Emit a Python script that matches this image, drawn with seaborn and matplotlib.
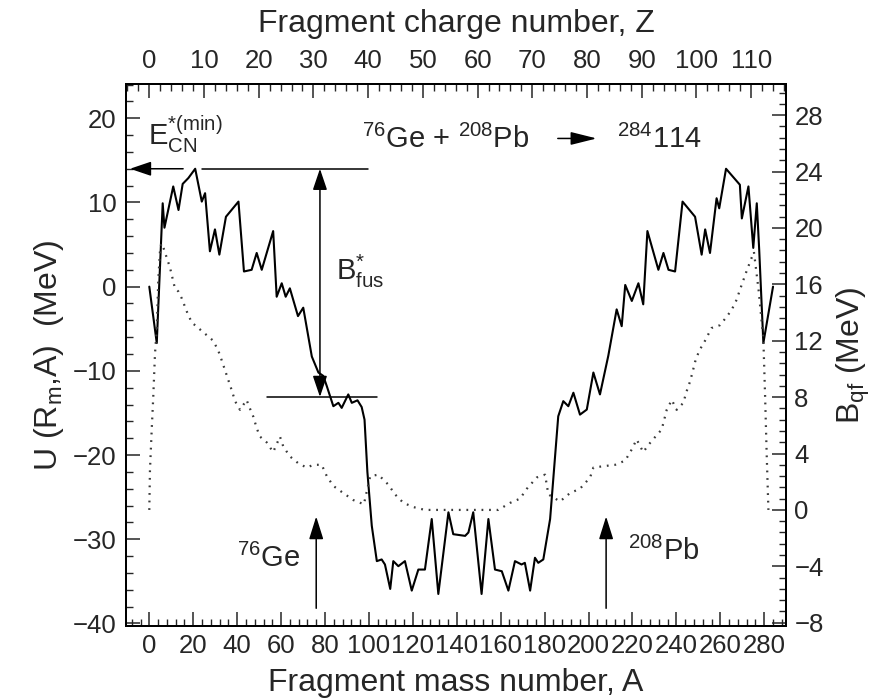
import matplotlib
matplotlib.use("Agg")
import matplotlib.pyplot as plt
from matplotlib import font_manager
from matplotlib.ticker import MultipleLocator, FixedLocator
import pandas as pd
import seaborn as sns

# Driving potential U(R_m, A) for the 76Ge + 208Pb -> 284114 system (MeV)
mass_U = [0, 3.4, 6.1, 6.9, 10.9, 13.3, 15.2, 17.8, 20.9, 23.9, 25.4, 27.6, 29.9, 31.9,
          34.9, 40.6, 43.1, 46.6, 48.9, 51.2, 56.4, 58.0, 60.3, 62.1, 64.0, 67.7, 70.1,
          74.0, 77.0, 79.2, 80.8, 83.8, 86.1, 87.6, 90.6, 92.2, 94.8, 96.7, 98.0, 99.3,
          101.3, 103.6, 105.8, 107.3, 109.7, 111.1, 113.4, 116.4, 119.5, 122.5, 125.5,
          128.6, 131.6, 136.2, 138.4, 143.8, 145.3, 147.5, 151.3, 154.4, 157.4, 160.5,
          163.5, 166.5, 169.5, 171.0, 173.4, 175.6, 177.1, 179.4, 182.5, 186.2, 188.5,
          190.8, 193.1, 196.1, 199.2, 202.2, 205.2, 209.0, 212.8, 215.1, 216.7, 219.7,
          222.7, 224.9, 226.8, 231.8, 234.1, 236.4, 239.4, 242.8, 248.5, 251.5, 253.1,
          255.3, 258.3, 259.5, 262.6, 268.9, 269.8, 272.8, 275.0, 276.6, 277.7, 279.6,
          284.0]
pot_U = [0.0, -6.7, 9.9, 7.0, 11.9, 9.1, 12.2, 12.9, 14.0, 10.1, 11.1, 4.2, 6.8, 3.8,
         8.3, 10.1, 1.8, 2.0, 4.0, 2.0, 6.6, -1.2, 0.4, -1.2, -0.2, -3.5, -2.5,
         -8.3, -10.2, -10.6, -11.8, -14.2, -13.8, -14.4, -12.8, -13.8, -13.5, -14.3, -15.8, -22.0,
         -28.4, -32.6, -32.4, -33.0, -35.9, -32.6, -33.2, -32.6, -36.1, -33.6, -33.6,
         -27.6, -36.5, -26.8, -29.4, -29.6, -29.2, -26.8, -36.5, -27.6, -33.6, -33.8,
         -36.1, -32.6, -33.0, -32.8, -36.1, -32.2, -32.8, -32.4, -27.6, -15.4, -13.6,
         -14.2, -12.6, -15.2, -14.6, -10.2, -12.8, -8.2, -2.7, -4.7, 0.2, -1.7,
         0.4, -2.1, 6.6, 2.0, 4.0, 2.0, 1.8, 10.1, 8.3, 3.8, 6.8,
         4.0, 10.5, 9.3, 14.0, 12.1, 8.1, 11.9, 4.6, 9.9, 4.4, -6.7,
         0.0]

# Quasi-fission barrier B_qf(A) (MeV)
mass_qf = [0, 0.3, 1.1, 1.8, 2.6, 3.4, 4.1, 5.0, 5.8, 9.4, 11.7, 13.2, 14.8, 17.0, 19.3,
           24.6, 29.1, 31.4, 33.0, 34.5, 36.0, 37.5, 39.1, 41.3, 44.3, 45.8, 47.4, 48.9,
           50.4, 53.4, 56.4, 59.5, 61.0, 64.0, 67.9, 71.7, 74.7, 78.5, 80.8, 83.8, 88.3,
           92.9, 97.7, 100.6, 104.3, 108.8, 111.9, 115.7, 120.3, 125.5, 158.9, 164.3,
           168.8, 171.9, 176.4, 180.2, 181.7, 187.0, 191.6, 196.1, 200.7, 202.2, 206.7,
           212.1, 216.7, 219.7, 221.9, 224.9, 227.2, 231.0, 233.3, 235.6, 237.9, 240.1,
           243.2, 244.4, 246.2, 247.4, 248.5, 250.4, 252.7, 256.0, 259.8, 262.9, 265.2,
           267.4, 268.9, 270.5, 272.1, 274.3, 275.3, 277.5, 279.6, 280.4, 281.1, 281.9]
barrier_qf = [0.0, 2.8, 5.7, 8.0, 11.1, 12.8, 16.3, 18.7, 18.9, 17.2, 15.7, 15.5, 15.0, 14.1, 13.3,
              12.6, 12.0, 11.3, 10.6, 9.9, 9.2, 8.5, 7.7, 7.1, 7.8, 7.2, 6.6, 5.8,
              5.2, 4.8, 4.1, 5.2, 4.5, 3.8, 3.3, 3.0, 3.2, 3.2, 2.4, 1.7, 1.2,
              0.7, 0.4, 2.4, 2.5, 1.8, 1.1, 0.5, 0.2, 0.0, 0.0, 0.5,
              0.8, 1.5, 2.3, 2.5, 1.1, 0.6, 1.2, 1.5, 2.3, 3.0, 3.1,
              3.2, 3.5, 4.3, 5.0, 4.1, 4.6, 5.3, 5.7, 7.1, 7.8, 7.1,
              7.6, 8.3, 9.1, 9.8, 10.5, 11.3, 11.9, 12.9, 13.1, 13.7, 14.2,
              14.9, 15.6, 16.3, 17.0, 17.9, 18.3, 15.5, 12.1, 8.0, 4.0, 0.0]

# Compound nucleus and entrance-channel nuclei
A_CN, Z_CN = 284, 114
A_GE, A_PB = 76, 208
U_BARRIER = -13.1          # top of the quasi-fission barrier seen from the minimum
A_BFUS = 77.7              # where the B*_fus arrow is drawn

bottom_ticks = list(range(0, 281, 20))
left_ticks = list(range(-40, 21, 10))
right_ticks = list(range(-8, 29, 4))
top_ticks = list(range(0, 111, 10))

sns.set_theme(style="ticks")
plt.rcParams["font.family"] = ["Liberation Sans", "DejaVu Sans"]
plt.rcParams["mathtext.fontset"] = "custom"
plt.rcParams["mathtext.rm"] = "Liberation Sans"
plt.rcParams["mathtext.it"] = "Liberation Sans:italic"
plt.rcParams["mathtext.bf"] = "Liberation Sans:bold"
plt.rcParams["mathtext.default"] = "regular"

# condensed face for the numbers on the axes, if present
installed = {f.name for f in font_manager.fontManager.ttflist}
if "Liberation Sans Narrow" in installed:
    tick_family = "Liberation Sans Narrow"
    tick_font = 21.5
else:
    tick_family = "Liberation Sans"
    tick_font = 18.5

fig = plt.figure(figsize=(8.95, 6.98), dpi=100)
ax = fig.add_axes([0.1408, 0.1032, 0.7374, 0.7765])

df_U = pd.DataFrame({"A": mass_U, "U": pot_U})
df_qf = pd.DataFrame({"A": mass_qf, "B": barrier_qf})

sns.lineplot(data=df_U, x="A", y="U", ax=ax, color="black", lw=1.5,
             estimator=None, sort=False)
ax.set_xlim(-10.6, 289.9)
ax.set_ylim(-40.3, 24.07)

ax2 = ax.twinx()
sns.lineplot(data=df_qf, x="A", y="B", ax=ax2, color="#3a3a3a", lw=1.6,
             linestyle=(0, (0.8, 2.6)), estimator=None, sort=False)
ax2.set_ylim(-8.23, 30.21)

label_font = 23

# bottom / left axes
ax.xaxis.set_major_locator(FixedLocator(bottom_ticks))
ax.xaxis.set_minor_locator(MultipleLocator(4))
ax.yaxis.set_major_locator(FixedLocator(left_ticks))
ax.yaxis.set_minor_locator(MultipleLocator(2))
ax.tick_params(axis="x", which="both", direction="in", bottom=True, top=False,
               labelsize=tick_font, labelfontfamily=tick_family, pad=6)
ax.tick_params(axis="y", which="both", direction="in", left=True, right=False,
               labelsize=tick_font, labelfontfamily=tick_family, pad=7)
ax.tick_params(which="major", length=10, width=1.1)
ax.tick_params(which="minor", length=5, width=1.0)
ax.set_xlabel("Fragment mass number, A", fontsize=label_font, labelpad=7)
ax.set_ylabel("U (R$_m$,A)  (MeV)", fontsize=label_font, labelpad=5)

# right axis
ax2.yaxis.set_major_locator(FixedLocator(right_ticks))
ax2.yaxis.set_minor_locator(MultipleLocator(0.8))
ax2.tick_params(axis="y", which="both", direction="in", right=True, left=False,
                labelsize=tick_font, labelfontfamily=tick_family, pad=6)
ax2.tick_params(which="major", length=10, width=1.1)
ax2.tick_params(which="minor", length=5, width=1.0)
ax2.set_ylabel("B$_{qf}$ (MeV)", fontsize=label_font, labelpad=8)

# top axis: fragment charge number
def a_to_z(a):
    return a * Z_CN / A_CN

def z_to_a(z):
    return z * A_CN / Z_CN

top = ax.secondary_xaxis("top", functions=(a_to_z, z_to_a))
top.xaxis.set_major_locator(FixedLocator(top_ticks))
top.xaxis.set_minor_locator(MultipleLocator(2))
top.tick_params(axis="x", which="both", direction="in", labelsize=tick_font,
                labelfontfamily=tick_family, pad=8)
top.tick_params(which="major", length=10, width=1.1)
top.tick_params(which="minor", length=5, width=1.0)
top.set_xlabel("Fragment charge number, Z", fontsize=label_font, labelpad=12)

for a in (ax, ax2):
    for s in a.spines.values():
        s.set_linewidth(1.4)
        s.set_color("black")

arrow_style = dict(color="black", lw=1.1, shrinkA=0, shrinkB=0, mutation_scale=20)

# minimal excitation energy of the compound nucleus
E_level = max(pot_U)
ax.annotate("", xy=(-8.8, E_level), xytext=(15.4, E_level),
            arrowprops=dict(arrowstyle="-|>,head_length=0.65,head_width=0.22", **arrow_style))
ax.plot([23.9, 99.7], [E_level, E_level], color="black", lw=1.1)
ax.plot([53.5, 103.5], [U_BARRIER, U_BARRIER], color="black", lw=1.1)
ax.annotate("", xy=(A_BFUS, E_level), xytext=(A_BFUS, U_BARRIER),
            arrowprops=dict(arrowstyle="<|-|>,head_length=0.65,head_width=0.22", **arrow_style))

# entrance-channel markers
for a_frag in (A_GE, A_PB):
    ax.annotate("", xy=(a_frag, -27.3), xytext=(a_frag, -38.2),
                arrowprops=dict(arrowstyle="-|>,head_length=0.7,head_width=0.22", **arrow_style))

# reaction arrow
ax.annotate("", xy=(203.7, 17.6), xytext=(186.0, 17.6),
            arrowprops=dict(arrowstyle="-|>,head_length=0.8,head_width=0.2", **arrow_style))

ann_font = 21
ax.text(-0.5, 16.8, r"$E^{*(min)}_{CN}$", fontsize=ann_font, ha="left", va="baseline")
ax.text(96.8, 16.5, r"$^{76}$Ge + $^{208}$Pb", fontsize=ann_font, ha="left", va="baseline")
ax.text(212.8, 16.5, r"$^{284}$114", fontsize=ann_font, ha="left", va="baseline")
ax.text(85.0, 0.8, r"$B^{*}_{fus}$", fontsize=ann_font, ha="left", va="baseline")
ax.text(39.8, -33.3, r"$^{76}$Ge", fontsize=ann_font, ha="left", va="baseline")
ax.text(218.1, -32.5, r"$^{208}$Pb", fontsize=ann_font, ha="left", va="baseline")

fig.savefig("out.png", dpi=100)
